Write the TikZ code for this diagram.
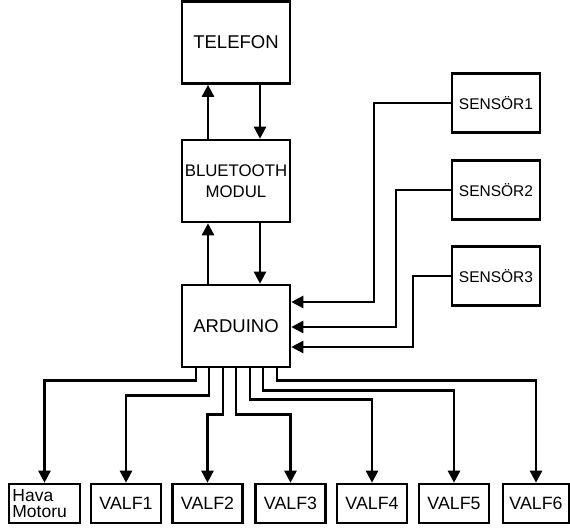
\documentclass[tikz,border=0pt]{standalone}
\usepackage{fontspec}
\setmainfont{Liberation Sans}
\usetikzlibrary{arrows.meta}
\begin{document}
\begin{tikzpicture}[x=1pt,y=-1pt,
  box/.style={draw, line width=2.6pt, inner sep=0pt, align=center},
  bigbox/.style={box, minimum width=108pt, minimum height=82pt, font=\fontsize{18.5}{20}\selectfont},
  sbox/.style={box, minimum width=88pt, minimum height=59pt, font=\fontsize{15.5}{17}\selectfont},
  vbox/.style={box, minimum width=70pt, minimum height=39pt, font=\fontsize{17.8}{19}\selectfont},
  arr/.style={line width=2.6pt, -{Triangle[length=12pt,width=12pt]}}]
\useasboundingbox (0,0) rectangle (570,530);
\node[bigbox] (tel) at (236,42.5) {TELEFON};
\node[bigbox, font=\fontsize{16.8}{21}\selectfont] (bt) at (236,181) {BLUETOOTH\\MODUL};
\node[bigbox] (ard) at (236,326) {ARDUINO};
\node[sbox] (s1) at (496,103) {SENSÖR1};
\node[sbox] (s2) at (496,190) {SENSÖR2};
\node[sbox] (s3) at (496,276) {SENSÖR3};
\node[box, minimum width=71pt, minimum height=39pt] (hava) at (44.5,503.5) {};
\node[anchor=west, inner sep=0pt, align=left, font=\fontsize{17.5}{16.5}\selectfont] (havat) at ([xshift=4.5pt]hava.west) {Hava\\Motoru};
\node[vbox] (v1) at (126,503.5) {VALF1};
\node[vbox] (v2) at (207.5,503.5) {VALF2};
\node[vbox] (v3) at (290.5,503.5) {VALF3};
\node[vbox] (v4) at (372,503.5) {VALF4};
\node[vbox] (v5) at (454,503.5) {VALF5};
\node[vbox, minimum width=66pt] (v6) at (536,503.5) {VALF6};
% telefon <-> bluetooth
\draw[arr] ([xshift=-28pt]bt.north) -- ([xshift=-28pt]tel.south);
\draw[arr] ([xshift=24pt]tel.south) -- ([xshift=24pt]bt.north);
% bluetooth <-> arduino
\draw[arr] ([xshift=-28pt]ard.north) -- ([xshift=-28pt]bt.south);
\draw[arr] ([xshift=24pt]bt.south) -- ([xshift=24pt]ard.north);
% sensors
\draw[arr] (s1.west) -| (374,302) -- ([yshift=24pt]ard.east);
\draw[arr] (s2.west) -| (396,327) -- ([yshift=-1pt]ard.east);
\draw[arr] (s3.west) -| (413,347) -- ([yshift=-21pt]ard.east);
% outputs
\draw[arr] ([xshift=-40pt]ard.south) -- ++(0,12) -| (hava.north);
\draw[arr] ([xshift=-27pt]ard.south) -- ++(0,27) -| (v1.north);
\draw[arr] ([xshift=-13pt]ard.south) -- ++(0,46) -| (v2.north);
\draw[arr] (ard.south) -- ++(0,46) -| (v3.north);
\draw[arr] ([xshift=14pt]ard.south) -- ++(0,31) -| (v4.north);
\draw[arr] ([xshift=27pt]ard.south) -- ++(0,22) -| (v5.north);
\draw[arr] ([xshift=41pt]ard.south) -- ++(0,12) -| (v6.north);
\end{tikzpicture}
\end{document}
